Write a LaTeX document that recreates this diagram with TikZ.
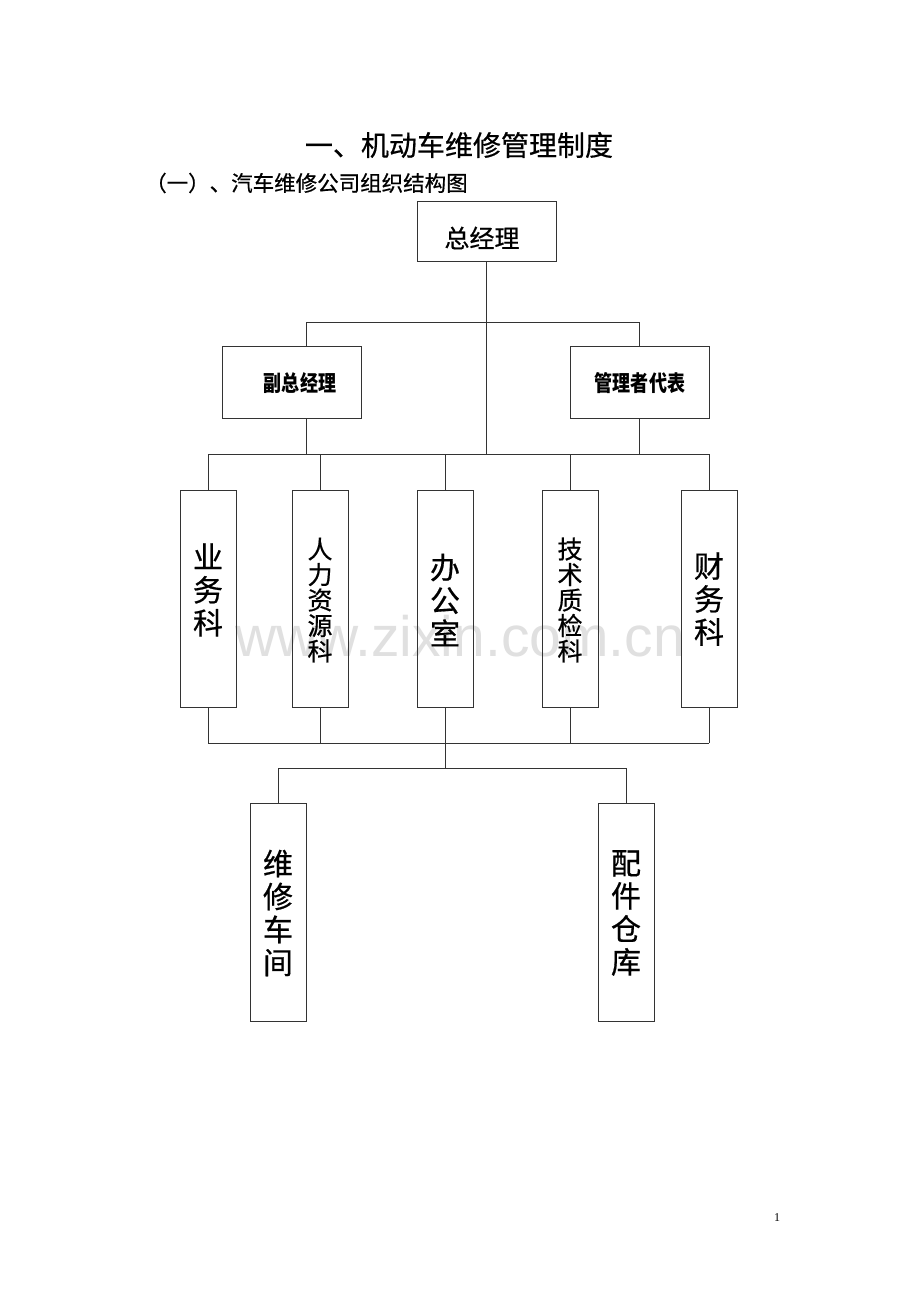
\documentclass[tikz,border=0pt]{standalone}
\usepackage{fontspec}
\newfontfamily\cjk[FakeBold=0.6]{Noto Sans CJK SC}
\newfontfamily\cjkn[FakeStretch=0.82]{Noto Sans CJK SC}
\setmainfont{Liberation Serif}
\newfontfamily\wmfont{Liberation Sans}
\begin{document}
\begin{tikzpicture}[x=1pt,y=-1pt,
  conn/.style={line width=0.9pt,draw=black!80},
  hbox/.style={draw=black!80,line width=0.9pt,minimum width=139pt,minimum height=72pt,inner sep=0pt},
  vbox/.style={draw=black!80,line width=0.9pt,minimum width=56pt,minimum height=217pt,inner sep=0pt},
  vtxtL/.style={font=\cjk\fontsize{30}{33}\selectfont,align=center,inner sep=0pt},
  vtxtS/.style={font=\cjk\fontsize{25}{25.5}\selectfont,align=center,inner sep=0pt}
]
\useasboundingbox (0,0) rectangle (920,1302);
\fill[white] (0,0) rectangle (920,1302);

% watermark
\node[font=\wmfont\fontsize{57}{57}\selectfont,text=black!12,inner sep=0pt] (wm) at (460,636) {www.zixin.com.cn};

% titles
\node[font=\cjk\fontsize{28}{28}\selectfont,inner sep=0pt] (title) at (459,145) {一、机动车维修管理制度};
\node[font=\cjk\fontsize{21.5}{21.5}\selectfont,inner sep=0pt,anchor=west] (sub) at (145,183) {（一）、汽车维修公司组织结构图};

% level 1
\node[hbox,minimum height=60pt] (gm) at (486.5,231) {};
\node[font=\cjk\fontsize{25}{25}\selectfont,inner sep=0pt] (gmt) at (482,238) {总经理};

% level 2
\node[hbox] (vgm) at (291.5,382) {};
\node[font=\cjkn\bfseries\fontsize{22}{22}\selectfont,inner sep=0pt] (vgmt) at (300,383) {副总经理};
\node[hbox] (rep) at (639.5,382) {};
\node[font=\cjkn\bfseries\fontsize{22}{22}\selectfont,inner sep=0pt] (rept) at (640,383) {管理者代表};

% level 3 boxes
\node[vbox] (b1) at (208,598.5) {};
\node[vbox] (b2) at (320,598.5) {};
\node[vbox] (b3) at (445,598.5) {};
\node[vbox] (b4) at (570,598.5) {};
\node[vbox] (b5) at (709,598.5) {};
\node[vtxtL] (t1) at (208,590) {业\\务\\科};
\node[vtxtS] (t2) at (320,600) {人\\力\\资\\源\\科};
\node[vtxtL] (t3) at (445,600) {办\\公\\室};
\node[vtxtS] (t4) at (570,600) {技\\术\\质\\检\\科};
\node[vtxtL] (t5) at (709,599) {财\\务\\科};

% level 4 boxes
\node[vbox,minimum height=218pt] (c1) at (278,912) {};
\node[vbox,minimum height=218pt] (c2) at (626,912) {};
\node[vtxtL] (u1) at (278,913) {维\\修\\车\\间};
\node[vtxtL] (u2) at (626,913) {配\\件\\仓\\库};

% junction coordinates
\coordinate (j1) at (486.5,322);
\coordinate (j1l) at (306,322);
\coordinate (j1r) at (639,322);
\coordinate (j2) at (486.5,454);
\coordinate (j2l) at (208,454);
\coordinate (j2r) at (709,454);
\coordinate (j3) at (445,743);
\coordinate (j3l) at (208,743);
\coordinate (j3r) at (709,743);
\coordinate (j4) at (445,768);
\coordinate (j4l) at (278,768);
\coordinate (j4r) at (626,768);

% connectors
\draw[conn] (gm.south) -- (j2);
\draw[conn] (j1l) -- (j1r);
\draw[conn] (j1l) -- (vgm.north -| j1l);
\draw[conn] (j1r) -- (rep.north -| j1r);
\draw[conn] (vgm.south -| j1l) -- (j1l |- j2);
\draw[conn] (rep.south -| j1r) -- (j1r |- j2);
\draw[conn] (j2l) -- (j2r);
\draw[conn] (j2l) -- (b1.north);
\draw[conn] (b2.north |- j2) -- (b2.north);
\draw[conn] (b3.north |- j2) -- (b3.north);
\draw[conn] (b4.north |- j2) -- (b4.north);
\draw[conn] (j2r) -- (b5.north);
\draw[conn] (b1.south) -- (j3l);
\draw[conn] (b2.south) -- (b2.south |- j3);
\draw[conn] (b3.south) -- (j3);
\draw[conn] (b4.south) -- (b4.south |- j3);
\draw[conn] (b5.south) -- (j3r);
\draw[conn] (j3l) -- (j3r);
\draw[conn] (j3) -- (j4);
\draw[conn] (j4l) -- (j4r);
\draw[conn] (j4l) -- (c1.north);
\draw[conn] (j4r) -- (c2.north);

% page number
\node[font=\fontsize{12}{12}\selectfont,inner sep=0pt] (pg) at (777,1218) {1};
\end{tikzpicture}
\end{document}
